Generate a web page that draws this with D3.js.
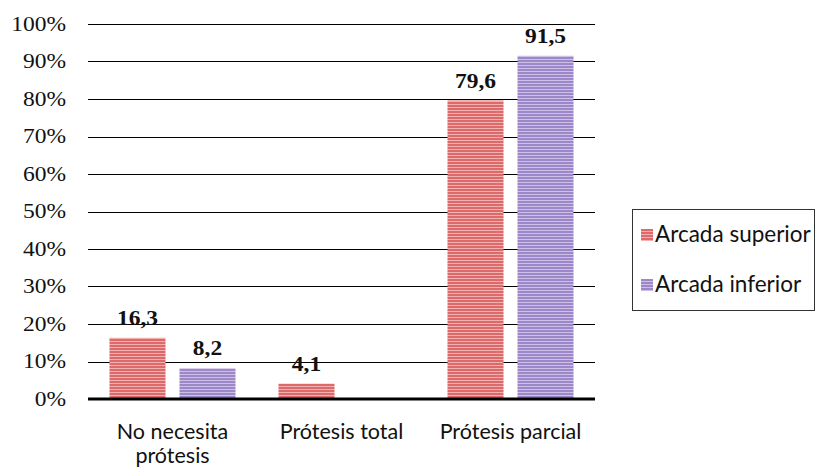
<!DOCTYPE html>
<html>
<head>
<meta charset="utf-8">
<script src="https://cdn.jsdelivr.net/npm/d3@7"></script>
<style>
  html, body { margin: 0; padding: 0; background: #fff; }
  svg { display: block; }
</style>
</head>
<body>
<svg id="chart" width="816" height="468"></svg>
<script>
// Categories and series
const categories = ["No necesita prótesis", "Prótesis total", "Prótesis parcial"];
const categoryLines = [["No necesita", "prótesis"], ["Prótesis total"], ["Prótesis parcial"]];
const seriesNames = ["Arcada superior", "Arcada inferior"];
const superiorValues = [16.3, 4.1, 79.6];
const inferiorValues = [8.2, null, 91.5];
const yTicks = [0, 10, 20, 30, 40, 50, 60, 70, 80, 90, 100];

const svg = d3.select("#chart");
const serif = "'Liberation Serif', 'Times New Roman', serif";
const sans = "Lato, 'Open Sans', sans-serif";
const stretch = 1.12; // horizontal widening of the serif labels

// Striped fills for the two series
const defs = svg.append("defs");
const fills = [
  { id: "stripe-sup", base: "#dc6a6a", light: "#f3b0b0" },
  { id: "stripe-inf", base: "#9c87c9", light: "#cdc0e6" }
];
fills.forEach(f => {
  const p = defs.append("pattern")
    .attr("id", f.id)
    .attr("patternUnits", "userSpaceOnUse")
    .attr("width", 6).attr("height", 3);
  p.append("rect").attr("width", 6).attr("height", 3).attr("fill", f.base);
  p.append("rect").attr("y", 2).attr("width", 6).attr("height", 1).attr("fill", f.light);
});

const plot = { left: 88, right: 595, top: 24, bottom: 399 };

const x0 = d3.scaleBand().domain(categories).range([plot.left, plot.right]).padding(0);
const x1 = d3.scaleBand().domain(seriesNames)
  .range([21.5, x0.bandwidth() - 21.5]).paddingInner(0.2).paddingOuter(0);
const y = d3.scaleLinear().domain([0, 100]).range([plot.bottom, plot.top]);

// Gridlines
svg.append("g")
  .selectAll("line")
  .data(yTicks.filter(t => t > 0))
  .join("line")
  .attr("x1", plot.left).attr("x2", plot.right)
  .attr("y1", d => Math.round(y(d)) + 0.5).attr("y2", d => Math.round(y(d)) + 0.5)
  .attr("stroke", "#000").attr("stroke-width", 1);

// Y tick labels
svg.append("g")
  .attr("transform", `scale(${stretch},1)`)
  .selectAll("text")
  .data(yTicks)
  .join("text")
  .attr("x", 66 / stretch)
  .attr("y", d => y(d) + 7)
  .attr("text-anchor", "end")
  .attr("font-family", serif)
  .attr("font-size", 21)
  .attr("fill", "#111")
  .text(d => d + "%");

// Bars
const rows = categories.map((c, i) => ({
  cat: c,
  vals: [
    { s: seriesNames[0], v: superiorValues[i], fill: "url(#stripe-sup)" },
    { s: seriesNames[1], v: inferiorValues[i], fill: "url(#stripe-inf)" }
  ].filter(d => d.v !== null)
}));

const groups = svg.append("g")
  .selectAll("g")
  .data(rows)
  .join("g")
  .attr("transform", d => `translate(${x0(d.cat)},0)`);

groups.selectAll("rect")
  .data(d => d.vals)
  .join("rect")
  .attr("x", d => x1(d.s))
  .attr("y", d => y(d.v))
  .attr("width", x1.bandwidth())
  .attr("height", d => y(0) - y(d.v))
  .attr("fill", d => d.fill);

// Value labels
groups.selectAll("text")
  .data(d => d.vals)
  .join("text")
  .attr("transform", d => `translate(${x1(d.s) + x1.bandwidth() / 2},${y(d.v) - 13}) scale(${stretch},1)`)
  .attr("text-anchor", "middle")
  .attr("font-family", serif)
  .attr("font-weight", "bold")
  .attr("font-size", 21)
  .attr("fill", "#111")
  .text(d => String(d.v).replace(".", ","));

// Baseline
svg.append("line")
  .attr("x1", plot.left).attr("x2", plot.right)
  .attr("y1", plot.bottom).attr("y2", plot.bottom)
  .attr("stroke", "#000").attr("stroke-width", 3);

// Category labels, one text element per line
const catLines = categories.flatMap((c, i) =>
  categoryLines[i].map((t, j) => ({ cat: c, text: t, line: j })));
svg.append("g")
  .selectAll("text")
  .data(catLines)
  .join("text")
  .attr("x", d => x0(d.cat) + x0.bandwidth() / 2)
  .attr("y", d => 439 + d.line * 24)
  .attr("text-anchor", "middle")
  .attr("font-family", sans)
  .attr("font-size", 21.5)
  .attr("fill", "#111")
  .text(d => d.text);

// Legend
const legend = svg.append("g");
legend.append("rect")
  .attr("x", 632.5).attr("y", 209.5)
  .attr("width", 182).attr("height", 101)
  .attr("fill", "#fff").attr("stroke", "#333").attr("stroke-width", 1);
const legendItems = legend.selectAll("g")
  .data(seriesNames)
  .join("g")
  .attr("transform", (d, i) => `translate(641, ${229 + i * 50})`);
legendItems.append("rect")
  .attr("width", 12).attr("height", 12)
  .attr("fill", (d, i) => `url(#${fills[i].id})`);
legendItems.append("text")
  .attr("x", 14).attr("y", 13)
  .attr("font-family", sans)
  .attr("font-size", 22.5)
  .attr("fill", "#111")
  .text(d => d);
</script>
</body>
</html>
